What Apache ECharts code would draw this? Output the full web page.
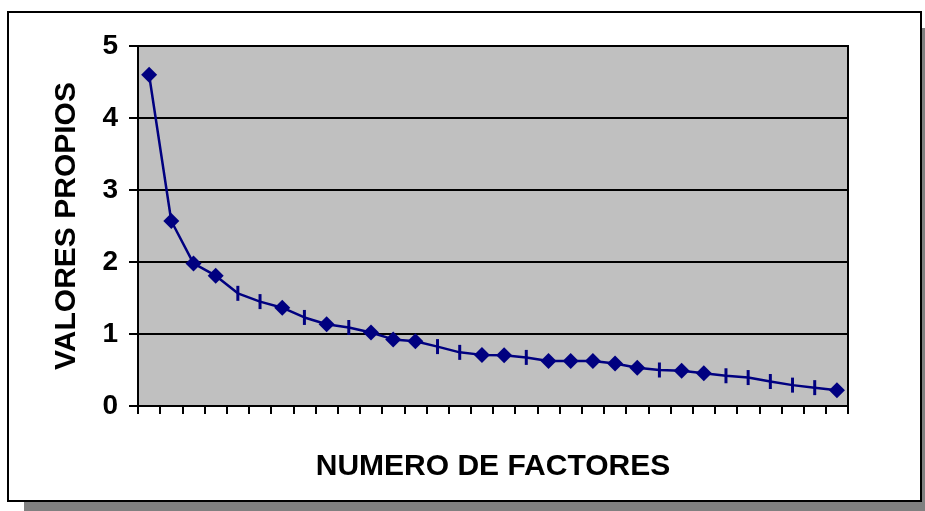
<!DOCTYPE html>
<html>
<head>
<meta charset="utf-8">
<style>
  html, body { margin: 0; padding: 0; background: #fff; }
  #chart { width: 925px; height: 511px; }
</style>
<script src="https://cdn.jsdelivr.net/npm/echarts@6/dist/echarts.min.js"></script>
</head>
<body>
<div id="chart"></div>
<script>
// Scree plot: eigenvalue of each extracted factor
const factores = Array.from({ length: 32 }, (_, i) => String(i + 1));
const valoresPropios = [
  4.60, 2.57, 1.98, 1.81, 1.565, 1.45, 1.365, 1.23, 1.135, 1.09,
  1.02, 0.925, 0.90, 0.825, 0.745, 0.71, 0.705, 0.675, 0.625, 0.625,
  0.625, 0.59, 0.53, 0.50, 0.49, 0.455, 0.42, 0.395, 0.34, 0.29,
  0.255, 0.22
];
// factors (1-based) drawn with a short vertical dash instead of a diamond
const factoresGuion = [5, 6, 8, 10, 14, 15, 18, 24, 27, 28, 29, 30, 31];
const yTicks = [0, 1, 2, 3, 4, 5];

const font = "'Liberation Sans', Arial, sans-serif";
const navy = '#000080';

const seriesData = valoresPropios.map((v, i) => {
  const dash = factoresGuion.includes(i + 1);
  return dash
    ? { value: v, symbol: 'rect', symbolSize: [3, 15] }
    : { value: v, symbol: 'diamond', symbolSize: 16 };
});

const chart = echarts.init(document.getElementById('chart'), null, { renderer: 'canvas' });
chart.setOption({
  animation: false,
  backgroundColor: '#fff',
  graphic: [
    { type: 'rect', z: -10, shape: { x: 24, y: 28, width: 910, height: 490 },
      style: { fill: '#808080' } },
    { type: 'rect', z: -9, shape: { x: 8, y: 12, width: 913, height: 489 },
      style: { fill: '#fff', stroke: '#000', lineWidth: 2 } }
  ],
  grid: {
    left: 138, right: 77, top: 46, bottom: 105,
    show: true, backgroundColor: '#C0C0C0', borderColor: '#000', borderWidth: 2
  },
  xAxis: {
    type: 'category',
    data: factores,
    boundaryGap: true,
    name: 'NUMERO DE FACTORES',
    nameLocation: 'middle',
    nameGap: 46,
    nameTextStyle: { fontFamily: font, fontWeight: 'bold', fontSize: 30, color: '#000' },
    axisLine: { lineStyle: { color: '#000', width: 2 } },
    axisTick: { show: true, interval: 0, length: 8, lineStyle: { color: '#000', width: 2 } },
    axisLabel: { show: false },
    splitLine: { show: false }
  },
  yAxis: {
    type: 'value',
    min: yTicks[0],
    max: yTicks[yTicks.length - 1],
    interval: 1,
    name: 'VALORES PROPIOS',
    nameLocation: 'middle',
    nameRotate: 90,
    nameGap: 56,
    nameTextStyle: { fontFamily: font, fontWeight: 'bold', fontSize: 30, color: '#000' },
    axisLine: { show: true, lineStyle: { color: '#000', width: 2 } },
    axisTick: { show: true, length: 9, lineStyle: { color: '#000', width: 2 } },
    axisLabel: { margin: 20, fontFamily: font, fontWeight: 'bold', fontSize: 28, color: '#000' },
    splitLine: { show: true, lineStyle: { color: '#000', width: 2 } }
  },
  series: [{
    type: 'line',
    data: seriesData,
    lineStyle: { color: navy, width: 2.5 },
    itemStyle: { color: navy },
    showAllSymbol: true
  }]
});
</script>
</body>
</html>
